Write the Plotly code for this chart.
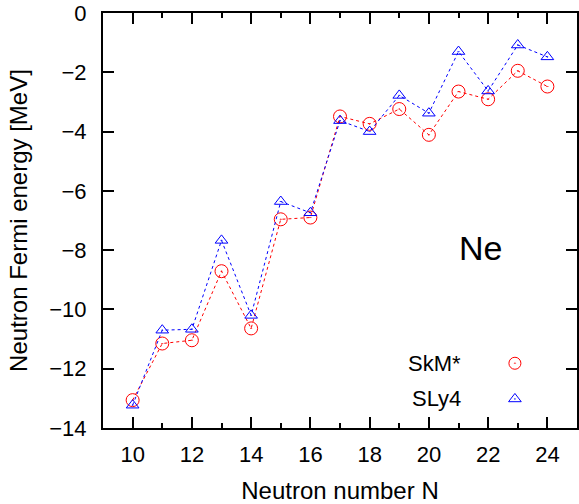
import plotly.graph_objects as go

# Neutron number
neutrons = [10, 11, 12, 13, 14, 15, 16, 17, 18, 19, 20, 21, 22, 23, 24]
# Neutron Fermi energy [MeV] for Ne isotopes
skm_star = [-13.06, -11.15, -11.04, -8.71, -10.64, -6.96, -6.90, -3.49, -3.74, -3.24, -4.11, -2.65, -2.91, -1.95, -2.48]
sly4 = [-13.23, -10.70, -10.67, -7.67, -10.20, -6.36, -6.74, -3.63, -4.00, -2.78, -3.38, -1.30, -2.63, -1.08, -1.48]

series_names = ["SkM*", "SLy4"]
x_ticks = [10, 12, 14, 16, 18, 20, 22, 24]
y_ticks = [0, -2, -4, -6, -8, -10, -12, -14]

FONT = "Liberation Sans, Arial, sans-serif"
RED = "#ff0000"
BLUE = "#0000ff"

fig = go.Figure()

fig.add_trace(go.Scatter(
    x=neutrons, y=skm_star, mode="lines+markers", name=series_names[0],
    line=dict(color=RED, width=1, dash="3px,3px"),
    marker=dict(symbol="circle-open-dot", size=13, color=RED, line=dict(width=1, color=RED)),
))
fig.add_trace(go.Scatter(
    x=neutrons, y=sly4, mode="lines+markers", name=series_names[1],
    line=dict(color=BLUE, width=1, dash="3px,3px"),
    marker=dict(symbol="triangle-up-open-dot", size=11, color=BLUE, line=dict(width=1, color=BLUE)),
))

# Legend keys on an overlay axis pair in unit coordinates
key_x = 0.869
key_y = [0.156, 0.07]
fig.add_trace(go.Scatter(
    x=[key_x], y=[key_y[0]], xaxis="x2", yaxis="y2", mode="markers", hoverinfo="skip",
    marker=dict(symbol="circle-open-dot", size=12, color=RED, line=dict(width=1, color=RED)),
))
fig.add_trace(go.Scatter(
    x=[key_x], y=[key_y[1]], xaxis="x2", yaxis="y2", mode="markers", hoverinfo="skip",
    marker=dict(symbol="triangle-up-open-dot", size=11, color=BLUE, line=dict(width=1, color=BLUE)),
))

annotations = [
    dict(text=series_names[0], x=0.7605, y=key_y[0], xref="paper", yref="paper",
         xanchor="right", yanchor="middle", showarrow=False, font=dict(size=22, color="black", family=FONT)),
    dict(text=series_names[1], x=0.7605, y=key_y[1], xref="paper", yref="paper",
         xanchor="right", yanchor="middle", showarrow=False, font=dict(size=22, color="black", family=FONT)),
    dict(text="Ne", x=0.796, y=0.433, xref="paper", yref="paper",
         xanchor="center", yanchor="middle", showarrow=False, font=dict(size=34, color="black", family=FONT)),
]

axis_common = dict(
    showline=True, linecolor="black", linewidth=2, mirror="allticks",
    ticks="inside", tickcolor="black", tickwidth=2, ticklen=11,
    showgrid=False, zeroline=False,
    tickfont=dict(size=22, color="black", family=FONT),
)

fig.update_layout(
    width=579, height=504,
    margin=dict(l=103, r=0, t=13, b=75),
    paper_bgcolor="white", plot_bgcolor="white",
    showlegend=False,
    font=dict(family=FONT, color="black"),
    xaxis=dict(
        range=[9, 25], tickvals=x_ticks, ticklabelstandoff=6,
        minor=dict(dtick=1, tick0=9, ticks="inside", ticklen=5, tickwidth=2, tickcolor="black"),
        title=dict(text="Neutron number N", font=dict(size=24, family=FONT), standoff=20),
        **axis_common,
    ),
    yaxis=dict(
        range=[-14, 0], tickvals=y_ticks, ticklabelstandoff=10,
        title=dict(text="Neutron Fermi energy [MeV]", font=dict(size=24, family=FONT), standoff=15),
        **axis_common,
    ),
    xaxis2=dict(range=[0, 1], overlaying="x", visible=False),
    yaxis2=dict(range=[0, 1], overlaying="y", visible=False),
    annotations=annotations,
)

fig.write_html("out.html")
